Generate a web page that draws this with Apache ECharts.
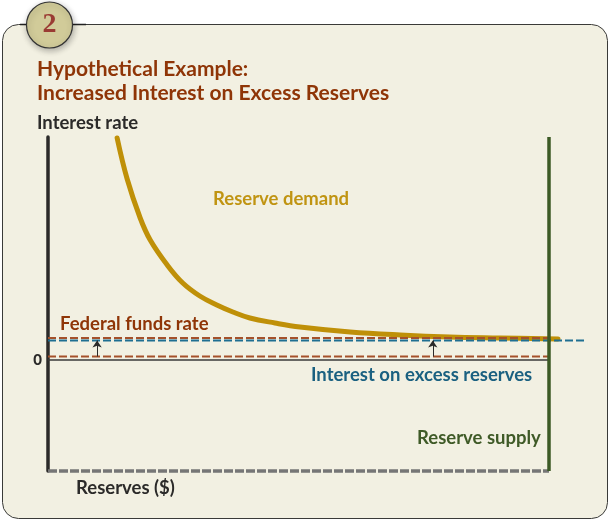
<!DOCTYPE html>
<html>
<head>
<meta charset="utf-8">
<style>
  html, body { margin: 0; padding: 0; background: #fff; }
  #chart { width: 610px; height: 521px; }
</style>
<script src="https://cdn.jsdelivr.net/npm/echarts@6/dist/echarts.min.js"></script>
</head>
<body>
<div id="chart"></div>
<script>
// x = reserves (0-100), y = rate (0 at the tick)
var demandX = [13.8, 15.8, 18.4, 20.4, 23.8, 26.9, 30.3, 33.7, 36.9, 40.3, 45.3, 50.3, 60.3, 70.3, 80.2, 90.2, 101.8];
var demandY = [222, 181, 142, 120, 95, 77, 64, 55, 48, 42, 37, 33, 28, 25, 23, 22, 21];
var reserveSupply = 100;
var rateRange = [-111, 223];
var blueLineEnd = 107;
var fedFundsOld = 3.5;
var fedFundsNew = 22;
var ioerOld = 0;
var ioerNew = 19.5;
var arrowX = [9.8, 76.8];
var yTicks = [0];

var FONT = 'Lato';
var demand = demandX.map(function (x, i) { return [x, demandY[i]]; });

function flatLine(name, y, end, color, width, type) {
  return {
    name: name,
    type: 'line',
    showSymbol: false,
    clip: false,
    lineStyle: { color: color, width: width, type: type },
    data: [[0, y], [end, y]]
  };
}

function label(text, x, y, color, size) {
  return {
    type: 'text',
    x: x,
    y: y,
    style: {
      text: text,
      fill: color,
      font: 'bold ' + (size || 18.5) + 'px ' + FONT,
      textVerticalAlign: 'middle'
    }
  };
}

var chart = echarts.init(document.getElementById('chart'));
chart.setOption({
  animation: false,
  // the axis runs a bit past the supply line so the blue line can stick out
  grid: { left: 48, top: 137, width: 536.07, height: 334 },
  xAxis: {
    type: 'value',
    min: 0,
    max: blueLineEnd,
    splitLine: { show: false },
    axisTick: { show: false },
    axisLabel: { show: false },
    axisLine: { show: false }
  },
  yAxis: {
    type: 'value',
    min: rateRange[0],
    max: rateRange[1],
    splitLine: { show: false },
    axisTick: { show: false },
    axisLabel: {
      customValues: yTicks,
      color: '#2b2a29',
      fontFamily: FONT,
      fontWeight: 900,
      fontSize: 15,
      margin: 6,
      padding: [3, 0, 0, 0]
    },
    axisLine: { onZero: false, lineStyle: { color: '#2b2a29', width: 3.5 } }
  },
  series: [
    flatLine('Reserves axis', rateRange[0], reserveSupply, '#767676', 3.5, [9, 2]),
    {
      name: 'Reserve demand',
      type: 'line',
      clip: false,
      smooth: 0.4,
      showSymbol: false,
      lineStyle: { color: '#bf9008', width: 5, cap: 'round' },
      data: demand
    },
    flatLine('IOER old', ioerOld, reserveSupply, '#3a3a38', 1.5, 'solid'),
    flatLine('Fed funds old', fedFundsOld, reserveSupply, '#a5512a', 2, [8, 3]),
    flatLine('Fed funds new', fedFundsNew, reserveSupply, '#a5512a', 2, [8, 3]),
    flatLine('IOER new', ioerNew, blueLineEnd, '#1f6f92', 2, [8, 3]),
    {
      name: 'Reserve supply',
      type: 'line',
      showSymbol: false,
      clip: false,
      lineStyle: { color: '#3c5a25', width: 3.5 },
      data: [[reserveSupply, rateRange[0]], [reserveSupply, rateRange[1]]],
      markLine: {
        silent: true,
        symbol: ['none', 'arrow'],
        symbolSize: 7,
        label: { show: false },
        lineStyle: { color: '#2b2a29', width: 1, type: 'solid' },
        data: arrowX.map(function (x) {
          return [{ coord: [x, fedFundsOld] }, { coord: [x, ioerNew] }];
        })
      }
    }
  ],
  graphic: [
    {
      type: 'rect',
      z: -10,
      shape: { x: 2.5, y: 24.5, width: 605, height: 494, r: 16 },
      style: { fill: '#f2f0e2', stroke: '#3a3a38', lineWidth: 1 }
    },
    {
      type: 'line',
      z: -9,
      shape: { x1: 20, y1: 24.5, x2: 86, y2: 24.5 },
      style: { stroke: '#222', lineWidth: 1.5 }
    },
    {
      type: 'circle',
      z: -8,
      shape: { cx: 49.5, cy: 25, r: 23 },
      style: {
        fill: '#d1cb99',
        stroke: '#333',
        lineWidth: 1.2,
        shadowBlur: 6,
        shadowOffsetX: 1,
        shadowOffsetY: 2,
        shadowColor: 'rgba(0,0,0,0.3)'
      }
    },
    {
      type: 'text',
      x: 49.5,
      y: 25,
      style: {
        text: '2',
        fill: '#9a3b33',
        font: 'bold 28px "Liberation Serif"',
        textAlign: 'center',
        textVerticalAlign: 'middle'
      }
    },
    label('Hypothetical Example:', 37, 69, '#8f3507', 21),
    label('Increased Interest on Excess Reserves', 37, 93, '#8f3507', 21),
    label('Interest rate', 37, 123, '#2b2a29'),
    label('Reserve demand', 213, 199, '#c09412'),
    label('Federal funds rate', 60, 324, '#8f3507'),
    label('Interest on excess reserves', 311, 375, '#1a6080'),
    label('Reserve supply', 417, 438, '#3f5a27'),
    label('Reserves ($)', 76, 488, '#2b2a29')
  ]
});
</script>
</body>
</html>
